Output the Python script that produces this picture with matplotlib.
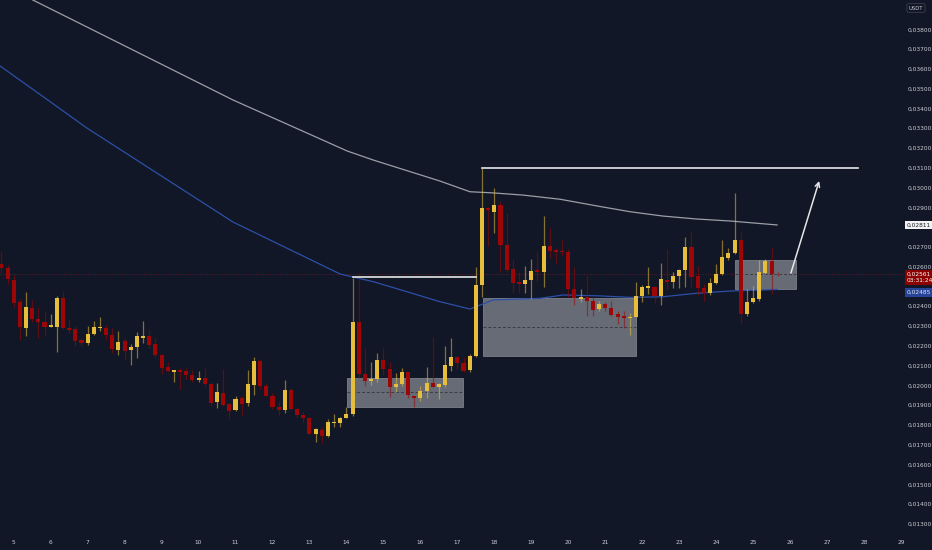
import matplotlib
matplotlib.use("Agg")
import matplotlib.pyplot as plt
import matplotlib.transforms as mtransforms
from matplotlib.patches import Rectangle
import numpy as np

# 4h candles, the first one opens at day 4 16:00
first_day = 5 - 2 / 6
opens = [0.02615, 0.02595, 0.02534, 0.02420, 0.02292, 0.02393, 0.02336, 0.02319, 0.02295, 0.02297,
         0.02442, 0.02292, 0.02284, 0.02229, 0.02213, 0.02258, 0.02289, 0.02292, 0.02255, 0.02179,
         0.02223, 0.02177, 0.02193, 0.02240, 0.02251, 0.02209, 0.02154, 0.02093, 0.02069, 0.02078,
         0.02073, 0.02052, 0.02026, 0.02036, 0.02007, 0.01914, 0.01960, 0.01906, 0.01874, 0.01936,
         0.01909, 0.02003, 0.02125, 0.01998, 0.01948, 0.01892, 0.01877, 0.01977, 0.01881, 0.01852,
         0.01837, 0.01753, 0.01776, 0.01746, 0.01811, 0.01811, 0.01834, 0.01854, 0.02319, 0.02060,
         0.02024, 0.02032, 0.02128, 0.02081, 0.01990, 0.02005, 0.02068, 0.01945, 0.01936, 0.01970,
         0.02011, 0.01993, 0.02002, 0.02100, 0.02142, 0.02112, 0.02078, 0.02149, 0.02506, 0.02898,
         0.02878, 0.02912, 0.02709, 0.02588, 0.02523, 0.02513, 0.02533, 0.02583, 0.02575, 0.02705,
         0.02684, 0.02678, 0.02674, 0.02489, 0.02438, 0.02445, 0.02428, 0.02385, 0.02410, 0.02391,
         0.02359, 0.02351, 0.02342, 0.02346, 0.02452, 0.02494, 0.02499, 0.02453, 0.02534, 0.02521,
         0.02553, 0.02583, 0.02701, 0.02553, 0.02494, 0.02467, 0.02518, 0.02562, 0.02642, 0.02668,
         0.02735, 0.02359, 0.02423, 0.02437, 0.02567, 0.02629, 0.02563]
highs = [0.02679, 0.02609, 0.02558, 0.02435, 0.02474, 0.02432, 0.02398, 0.02376, 0.02361, 0.02452,
         0.02479, 0.02334, 0.02300, 0.02238, 0.02300, 0.02327, 0.02344, 0.02305, 0.02289, 0.02276,
         0.02238, 0.02208, 0.02268, 0.02325, 0.02287, 0.02238, 0.02159, 0.02120, 0.02078, 0.02086,
         0.02086, 0.02076, 0.02074, 0.02086, 0.02018, 0.02011, 0.02081, 0.01909, 0.01946, 0.01946,
         0.02078, 0.02142, 0.02132, 0.02011, 0.01963, 0.01917, 0.02027, 0.01985, 0.01892, 0.01864,
         0.01842, 0.01786, 0.01791, 0.01829, 0.01854, 0.01842, 0.01892, 0.02545, 0.02567, 0.02187,
         0.02120, 0.02162, 0.02187, 0.02120, 0.02061, 0.02086, 0.02070, 0.01946, 0.01997, 0.02091,
         0.02243, 0.02011, 0.02199, 0.02238, 0.02145, 0.02142, 0.02157, 0.02597, 0.03100, 0.02903,
         0.02996, 0.02932, 0.02873, 0.02634, 0.02575, 0.02604, 0.02640, 0.02674, 0.02856, 0.02794,
         0.02693, 0.02735, 0.02689, 0.02597, 0.02487, 0.02558, 0.02445, 0.02425, 0.02423, 0.02428,
         0.02378, 0.02378, 0.02367, 0.02524, 0.02507, 0.02600, 0.02502, 0.02620, 0.02689, 0.02573,
         0.02587, 0.02749, 0.02774, 0.02605, 0.02513, 0.02541, 0.02614, 0.02735, 0.02693, 0.02971,
         0.02774, 0.02486, 0.02502, 0.02634, 0.02637, 0.02696, 0.02573]
lows = [0.02570, 0.02513, 0.02398, 0.02229, 0.02250, 0.02322, 0.02240, 0.02250, 0.02293, 0.02170,
        0.02287, 0.02263, 0.02199, 0.02199, 0.02204, 0.02255, 0.02275, 0.02229, 0.02162, 0.02154,
        0.02128, 0.02102, 0.02140, 0.02216, 0.02190, 0.02142, 0.02056, 0.02069, 0.02019, 0.01983,
        0.02031, 0.02019, 0.02016, 0.01993, 0.01896, 0.01887, 0.01897, 0.01830, 0.01872, 0.01850,
        0.01897, 0.01951, 0.01982, 0.01946, 0.01879, 0.01847, 0.01859, 0.01877, 0.01837, 0.01816,
        0.01754, 0.01712, 0.01710, 0.01741, 0.01791, 0.01791, 0.01833, 0.01845, 0.02037, 0.01999,
        0.02002, 0.02019, 0.02052, 0.01943, 0.01965, 0.01998, 0.01935, 0.01892, 0.01923, 0.01938,
        0.01992, 0.01930, 0.01990, 0.02074, 0.02083, 0.02069, 0.02066, 0.02145, 0.02445, 0.02705,
        0.02772, 0.02573, 0.02575, 0.02466, 0.02469, 0.02466, 0.02435, 0.02528, 0.02496, 0.02646,
        0.02612, 0.02654, 0.02445, 0.02405, 0.02423, 0.02351, 0.02352, 0.02378, 0.02378, 0.02351,
        0.02310, 0.02289, 0.02255, 0.02344, 0.02423, 0.02460, 0.02418, 0.02405, 0.02482, 0.02494,
        0.02494, 0.02499, 0.02499, 0.02457, 0.02428, 0.02457, 0.02513, 0.02558, 0.02634, 0.02666,
        0.02310, 0.02352, 0.02418, 0.02428, 0.02563, 0.02462, 0.02553]
closes = [0.02593, 0.02536, 0.02416, 0.02294, 0.02395, 0.02336, 0.02320, 0.02297, 0.02305, 0.02442,
          0.02289, 0.02280, 0.02226, 0.02213, 0.02261, 0.02294, 0.02297, 0.02253, 0.02182, 0.02221,
          0.02175, 0.02193, 0.02248, 0.02251, 0.02204, 0.02154, 0.02088, 0.02071, 0.02077, 0.02069,
          0.02051, 0.02026, 0.02037, 0.02009, 0.01912, 0.01965, 0.01902, 0.01872, 0.01933, 0.01906,
          0.02007, 0.02125, 0.01998, 0.01948, 0.01891, 0.01877, 0.01978, 0.01879, 0.01850, 0.01837,
          0.01756, 0.01778, 0.01746, 0.01815, 0.01816, 0.01835, 0.01857, 0.02319, 0.02057, 0.02024,
          0.02032, 0.02128, 0.02083, 0.01993, 0.02007, 0.02068, 0.01950, 0.01938, 0.01972, 0.02014,
          0.01993, 0.02005, 0.02103, 0.02142, 0.02112, 0.02074, 0.02149, 0.02507, 0.02898, 0.02885,
          0.02912, 0.02709, 0.02583, 0.02519, 0.02514, 0.02533, 0.02578, 0.02575, 0.02705, 0.02681,
          0.02674, 0.02672, 0.02489, 0.02443, 0.02448, 0.02428, 0.02381, 0.02410, 0.02390, 0.02356,
          0.02346, 0.02342, 0.02347, 0.02452, 0.02499, 0.02501, 0.02453, 0.02538, 0.02521, 0.02554,
          0.02582, 0.02700, 0.02549, 0.02494, 0.02469, 0.02518, 0.02563, 0.02649, 0.02671, 0.02735,
          0.02361, 0.02423, 0.02443, 0.02572, 0.02630, 0.02562, 0.02561]

# moving averages (day, price)
ma_slow_days = [4.63, 5.52, 6.98, 10.93, 14.02, 14.73, 16.53, 17.34, 17.97, 18.78, 19.78, 20.78,
                21.67, 22.56, 23.48, 24.38, 25.65]
ma_slow_vals = [0.04034, 0.03948, 0.03812, 0.03443, 0.03185, 0.03139, 0.03033, 0.02979, 0.02973,
                0.02962, 0.02941, 0.02907, 0.02878, 0.02856, 0.02841, 0.02831, 0.02811]
ma_fast_days = [4.63, 5.98, 6.98, 10.93, 13.83, 14.73, 15.63, 16.53, 17.34, 17.97, 19.24, 19.86,
                20.78, 21.67, 22.56, 23.48, 24.38, 25.65]
ma_fast_vals = [0.03615, 0.03435, 0.03301, 0.02826, 0.02563, 0.02524, 0.02474, 0.02423, 0.02386,
                0.02432, 0.02440, 0.02457, 0.02453, 0.02445, 0.02448, 0.02466, 0.02477, 0.02485]

# drawn zones: (day start, day end, low, high, mid)
zones = [(14.01, 17.16, 0.01892, 0.02036, 0.01965),
         (17.69, 21.82, 0.02151, 0.02440, 0.02297),
         (24.51, 26.16, 0.02487, 0.02634, 0.02562)]
# horizontal levels: (day start, day end, price)
levels = [(14.167, 17.5, 0.02546), (17.667, 27.83, 0.03100)]
arrow_from = (26.0, 0.02554)
arrow_to = (26.81, 0.03047)

last_price = 0.02561
slow_last = 0.02811
fast_last = 0.02485
countdown = "03:31:24"

bg = "#111726"
up_col = "#e6be3c"
dn_col = "#9c0606"
txt_col = "#c9ccd4"

fig = plt.figure(figsize=(9.32, 5.5), dpi=100, facecolor=bg)
ax = fig.add_axes([0, 17 / 550, 903 / 932, 533 / 550])
ax.set_facecolor(bg)

x = first_day + np.arange(len(opens)) / 6
o = np.array(opens)
c = np.array(closes)
h = np.array(highs)
l = np.array(lows)
up = c >= o
colors = np.where(up, up_col, dn_col)

# zones sit under the candles
for x0, x1, lo, hi, mid in zones:
    ax.add_patch(Rectangle((x0, lo), x1 - x0, hi - lo, facecolor="#7f838c", alpha=0.78,
                           edgecolor="#8e929a", linewidth=0.6, zorder=1.5))
    ax.plot([x0, x1], [mid, mid], color="#3a3d45", linewidth=0.7, linestyle=(0, (3, 2)), zorder=1.6)

ax.plot(ma_slow_days, ma_slow_vals, color="#9a9ea6", linewidth=0.9, zorder=2)
ax.plot(ma_fast_days, ma_fast_vals, color="#2c4fa8", linewidth=0.9, zorder=2)

ax.vlines(x, l, h, colors=colors, linewidth=0.9, alpha=0.55, zorder=3)
body_lo = np.minimum(o, c)
body_h = np.maximum(np.abs(c - o), 0.00003)
ax.bar(x, body_h, bottom=body_lo, width=0.11, color=colors, edgecolor="none", zorder=4)

for x0, x1, p in levels:
    ax.plot([x0, x1], [p, p], color="#e6e6e6", linewidth=1.2, zorder=6)

ax.annotate("", xy=arrow_to, xytext=arrow_from,
            arrowprops=dict(arrowstyle="->", color="#e6e6e6", lw=1.1, mutation_scale=8), zorder=7)

ax.axhline(last_price, color="#5b1c26", linewidth=0.7, linestyle=(0, (1, 1.5)), zorder=1)

ax.set_xlim(4.629, 29.055)
ax.set_ylim(0.012537, 0.039483)
for s in ax.spines.values():
    s.set_visible(False)

yt = [v / 1000 for v in range(13, 39) if v not in (25, 28)]
ax.yaxis.tick_right()
ax.set_yticks(yt)
ax.set_yticklabels([f"{v:.5f}".replace(".", ",") for v in yt])
ax.set_xticks(range(5, 30))
ax.set_xticklabels([str(d) for d in range(5, 30)])
ax.tick_params(axis="y", length=0, pad=3, labelsize=4.2, labelcolor=txt_col)
ax.tick_params(axis="x", length=0, pad=5, labelsize=4.2, labelcolor=txt_col)

tr = mtransforms.blended_transform_factory(ax.transAxes, ax.transData)
ax.text(1.0045, fast_last - 0.00016, f"{fast_last:.5f}".replace(".", ","), transform=tr,
        ha="left", va="center", fontsize=4.2, color="#e0e4f0", clip_on=False, zorder=8,
        bbox=dict(boxstyle="square,pad=0.3", fc="#26449a", ec="none"))
ax.text(1.0045, last_price - 0.00016, f"{last_price:.5f}".replace(".", ",") + "\n" + countdown,
        transform=tr, ha="left", va="center", fontsize=4.2, color="white", clip_on=False,
        zorder=9, linespacing=1.25, bbox=dict(boxstyle="square,pad=0.3", fc="#8c0000", ec="none"))
ax.text(1.0045, slow_last, f"{slow_last:.5f}".replace(".", ","), transform=tr,
        ha="left", va="center", fontsize=4.2, color="#1a1d26", clip_on=False, zorder=8,
        bbox=dict(boxstyle="square,pad=0.3", fc="#f2f2f2", ec="none"))
fig.text(916 / 932, 1 - 8 / 550, "USDT", ha="center", va="center", fontsize=3.8, color=txt_col,
         bbox=dict(boxstyle="round,pad=0.35", fc=bg, ec="#3a3f4c", lw=0.6))

fig.savefig("out.png", dpi=100, facecolor=bg)
